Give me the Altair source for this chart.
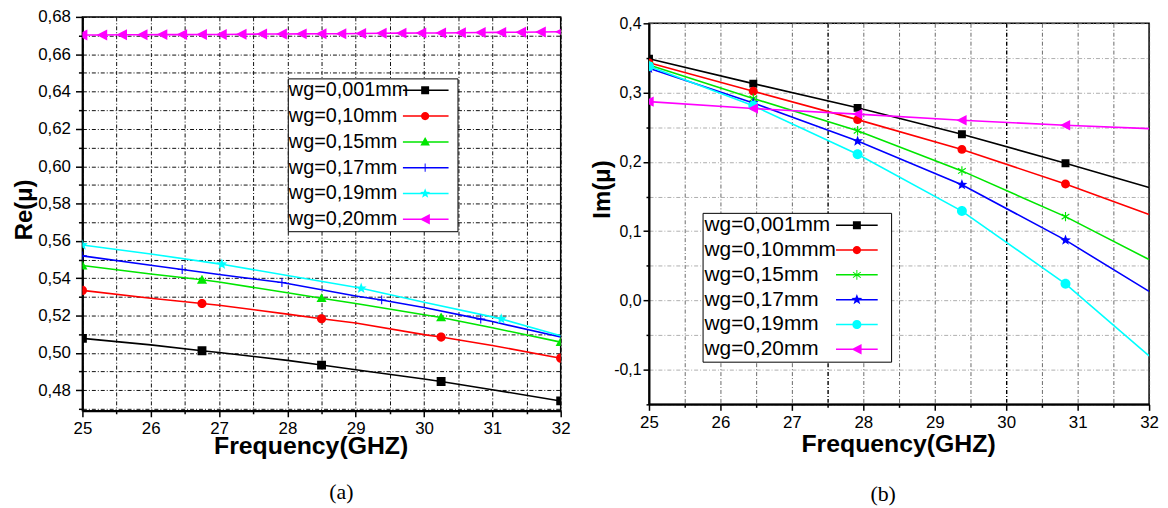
import math
import altair as alt
import pandas as pd

# ---------------- data ----------------
re_names = ["wg=0,001mm", "wg=0,10mm", "wg=0,15mm", "wg=0,17mm", "wg=0,19mm", "wg=0,20mm"]
re_colors = ["#000000", "#ff0000", "#00e600", "#0000ff", "#00ffff", "#ff00ff"]

re_black_x = [25, 26, 26.75, 27, 28, 28.5, 29, 30, 30.25, 31, 32]
re_black_y = [0.5078, 0.5043, 0.5012, 0.5002, 0.4960, 0.4935, 0.4910, 0.4860, 0.4847, 0.4803, 0.4743]
re_black_m = [25, 26.75, 28.5, 30.25, 32]

re_red_x = [25, 26, 26.75, 27, 28, 28.5, 29, 30, 30.25, 31, 32]
re_red_y = [0.5335, 0.5293, 0.5265, 0.5255, 0.5208, 0.5183, 0.5160, 0.5098, 0.5085, 0.5040, 0.4972]
re_red_m = [25, 26.75, 28.5, 30.25, 32]

re_green_x = [25, 26, 26.75, 27, 28, 28.5, 29, 30, 30.25, 31, 32]
re_green_y = [0.5468, 0.5423, 0.5392, 0.5380, 0.5322, 0.5293, 0.5265, 0.5205, 0.5190, 0.5135, 0.5058]
re_green_m = [25, 26.75, 28.5, 30.25, 32]

re_blue_x = [25, 26, 26.46, 27, 27.92, 28, 29, 29.38, 30, 30.83, 31, 32]
re_blue_y = [0.5520, 0.5470, 0.5447, 0.5420, 0.5377, 0.5372, 0.5305, 0.5284, 0.5243, 0.5181, 0.5168, 0.5085]
re_blue_m = [25, 26.46, 27.92, 29.38, 30.83]

re_cyan_x = [25, 26, 27, 27.04, 28, 29, 29.08, 30, 31, 31.13, 32]
re_cyan_y = [0.5578, 0.5530, 0.5477, 0.5475, 0.5415, 0.5352, 0.5346, 0.5272, 0.5193, 0.5182, 0.5092]
re_cyan_m = [25, 27.04, 29.08, 31.13]

re_mag_x = [25.0, 25.29, 25.58, 25.88, 26.17, 26.46, 26.75, 27.04, 27.33, 27.63, 27.92, 28.21, 28.5,
            28.79, 29.08, 29.38, 29.67, 29.96, 30.25, 30.54, 30.83, 31.13, 31.42, 31.71, 32.0]
re_mag_y = [0.6703, 0.6703, 0.6704, 0.6704, 0.6705, 0.6705, 0.6706, 0.6706, 0.6707, 0.6708, 0.6708,
            0.6709, 0.6710, 0.6710, 0.6711, 0.6712, 0.6713, 0.6714, 0.6714, 0.6715, 0.6716, 0.6717,
            0.6718, 0.6719, 0.6720]
re_mag_m = re_mag_x

im_names = ["wg=0,001mm", "wg=0,10mmm", "wg=0,15mm", "wg=0,17mm", "wg=0,19mm", "wg=0,20mm"]
im_colors = ["#000000", "#ff0000", "#00e600", "#0000ff", "#00ffff", "#ff00ff"]
im_x = [25, 26.46, 27.92, 29.38, 30.83, 32]
im_m = [25, 26.46, 27.92, 29.38, 30.83]
im_black_y = [0.349, 0.313, 0.278, 0.240, 0.198, 0.163]
im_red_y = [0.343, 0.302, 0.261, 0.218, 0.168, 0.124]
im_green_y = [0.340, 0.2915, 0.245, 0.187, 0.121, 0.059]
im_blue_y = [0.335, 0.285, 0.230, 0.167, 0.087, 0.013]
im_cyan_y = [0.338, 0.281, 0.211, 0.129, 0.024, -0.080]
im_mag_y = [0.287, 0.277, 0.269, 0.260, 0.253, 0.248]

x_ticks = [25, 25.5, 26, 26.5, 27, 27.5, 28, 28.5, 29, 29.5, 30, 30.5, 31, 31.5, 32]
re_y_ticks = [0.47, 0.48, 0.49, 0.50, 0.51, 0.52, 0.53, 0.54, 0.55, 0.56, 0.57, 0.58, 0.59,
              0.60, 0.61, 0.62, 0.63, 0.64, 0.65, 0.66, 0.67, 0.68]
im_y_ticks = [-0.15, -0.1, -0.05, 0.0, 0.05, 0.1, 0.15, 0.2, 0.25, 0.3, 0.35, 0.4]

FONT = "Liberation Sans"
FREQ = "Frequency(GHZ)"

# ---------------- marker shapes (unit coordinates) ----------------
def poly(pts):
    return "M" + " L".join(f"{x:.3f},{y:.3f}" for x, y in pts) + " Z"

def bar(angle, half_len, half_w, cx):
    a = math.radians(angle)
    ux, uy = math.cos(a), math.sin(a)
    vx, vy = -uy, ux
    corners = [(-half_len, -half_w), (half_len, -half_w), (half_len, half_w), (-half_len, half_w)]
    return poly([(cx + px * ux + py * vx, px * uy + py * vy) for px, py in corners])

def marker(kind, s=1.0, cx=0.0):
    if kind == "square":
        return poly([(cx - s, -s), (cx + s, -s), (cx + s, s), (cx - s, s)])
    if kind == "circle":
        return f"M{cx - s:.3f},0 A{s:.3f},{s:.3f} 0 1,1 {cx + s:.3f},0 A{s:.3f},{s:.3f} 0 1,1 {cx - s:.3f},0 Z"
    if kind == "triangle":
        return poly([(cx, -1.1 * s), (cx + 1.1 * s, 0.85 * s), (cx - 1.1 * s, 0.85 * s)])
    if kind == "plus":
        return bar(0, s, 0.12, cx) + " " + bar(90, s, 0.12, cx)
    if kind == "asterisk":
        return " ".join(bar(a, s, 0.12, cx) for a in (90, 35, 145))
    if kind == "star":
        pts = []
        for i in range(10):
            r = 1.25 * s if i % 2 == 0 else 0.52 * s
            ang = math.radians(-90 + 36 * i)
            pts.append((cx + r * math.cos(ang), r * math.sin(ang)))
        return poly(pts)
    if kind == "lefttri":
        return poly([(cx - 1.1 * s, 0), (cx + 0.95 * s, -1.05 * s), (cx + 0.95 * s, 1.05 * s)])
    return ""

def legend_symbol(kind, s, line_from, line_to, mid, right_edge):
    # thin filled bar (the line), the marker, and an invisible point that widens the box
    return (bar(0, (line_to - line_from) / 2, 0.19, (line_to + line_from) / 2) + " "
            + marker(kind, s, mid) + f" M{right_edge:.2f},0 Z")


def panel(names, colors, series, kinds, sizes, lscales, xscale, yscale, xaxis, yaxis,
          width, height, legend, leg_line, cap, cap_dx, cap_offset, y_mid):
    xenc = alt.X("x:Q", scale=xscale, axis=xaxis, title=FREQ)
    layers = []
    for (xs, ys, ms), col in zip(series, colors):
        df = pd.DataFrame({"x": xs, "y": ys})
        layers.append(alt.Chart(df).mark_line(color=col, strokeWidth=1.6, clip=True).encode(
            x=xenc, y=alt.Y("y:Q", scale=yscale, axis=yaxis)))
    for (xs, ys, ms), col, kind, size in zip(series, colors, kinds, sizes):
        lookup = dict(zip(xs, ys))
        dm = pd.DataFrame({"x": ms, "y": [lookup[m] for m in ms]})
        layers.append(alt.Chart(dm).mark_point(shape=marker(kind), filled=True, color=col,
                                               size=size, opacity=1, strokeWidth=0, clip=True).encode(
            x=xenc, y=alt.Y("y:Q", scale=yscale, axis=yaxis)))
    # legend-only layer (points lie outside the x domain and are clipped)
    dl = pd.DataFrame({"series": names, "x": [20] * len(names), "y": [y_mid] * len(names)})
    lpaths = [legend_symbol(k, s, *leg_line) for k, s in zip(kinds, lscales)]
    layers.append(alt.Chart(dl).mark_point(filled=True, opacity=1, clip=True).encode(
        x=xenc, y=alt.Y("y:Q", scale=yscale, axis=yaxis),
        color=alt.Color("series:N", scale=alt.Scale(domain=names, range=colors), legend=legend),
        shape=alt.Shape("series:N", scale=alt.Scale(domain=names, range=lpaths), legend=legend),
    ))
    return alt.layer(*layers).properties(
        width=width, height=height,
        title=alt.TitleParams(cap, orient="bottom", font="Liberation Serif", fontSize=22,
                              fontWeight="normal", color="black", dx=cap_dx, offset=cap_offset),
    )

major_x = "datum.value % 1 == 0"

def x_axis(title_x, title_y, grid_color, grid_width):
    return alt.Axis(
        values=x_ticks, labelExpr=f"{major_x} ? format(datum.value, 'd') : ''",
        labelFont=FONT, labelFontSize=17, labelColor="black", labelPadding=4, labelFlush=False,
        labelOverlap=False,
        tickSize={"condition": {"test": major_x, "value": 6}, "value": 3},
        tickColor="black", tickWidth=1.5,
        domainColor="black", domainWidth=2,
        grid=True, gridColor=grid_color, gridDash=[4, 2, 1, 2], gridWidth=grid_width, gridOpacity=1,
        titleFont=FONT, titleFontSize=25, titleFontWeight="bold", titleColor="black",
        titleX=title_x, titleY=title_y, titleBaseline="alphabetic",
    )

re_major = "round(datum.value * 100) % 2 == 0"
re_yaxis = alt.Axis(
    values=re_y_ticks,
    labelExpr=f"{re_major} ? replace(format(datum.value, '.2f'), '.', ',') : ''",
    labelFont=FONT, labelFontSize=17, labelColor="black", labelPadding=5, labelOverlap=False,
    labelFlush=False,
    tickSize={"condition": {"test": re_major, "value": 7}, "value": 4},
    tickColor="black", tickWidth=1.5, domainColor="black", domainWidth=2,
    grid=True, gridColor="#111111", gridDash=[4, 2, 1, 2], gridWidth=1, gridOpacity=1,
    title="Re(\u03bc)", titleFont=FONT, titleFontSize=24, titleFontWeight="bold", titleColor="black",
    titleX=-51, titleY=194, titleBaseline="alphabetic", titleAngle=270,
)

im_major = "round(datum.value * 20) % 2 == 0"
im_yaxis = alt.Axis(
    values=im_y_ticks,
    labelExpr=(f"{im_major} ? (datum.value < -0.001 ? '-' : '') + "
               "replace(format(abs(datum.value), '.1f'), '.', ',') : ''"),
    labelFont=FONT, labelFontSize=16, labelColor="black", labelPadding=2, labelOverlap=False,
    labelFlush=False,
    tickSize={"condition": {"test": im_major, "value": 6}, "value": 3},
    tickColor="black", tickWidth=1.5, domainColor="black", domainWidth=2,
    grid=True, gridColor="#9a9a9a", gridDash=[4, 2, 1, 2], gridWidth=0.8, gridOpacity=1,
    title="Im(\u03bc)", titleFont=FONT, titleFontSize=24, titleFontWeight="bold", titleColor="black",
    titleX=-40, titleY=167, titleBaseline="alphabetic", titleAngle=270,
)

def make_legend(lx, ly, fs, rowpad):
    return alt.Legend(
        title=None, orient="none", legendX=lx, legendY=ly, padding=2,
        labelFont=FONT, labelFontSize=fs, labelColor="black", labelLimit=400,
        labelOffset={"expr": "-21"}, symbolSize=64, symbolStrokeWidth=0, symbolOpacity=1,
        rowPadding=rowpad, strokeColor="black", fillColor="white",
    )

left = panel(
    re_names, re_colors,
    [(re_black_x, re_black_y, re_black_m), (re_red_x, re_red_y, re_red_m),
     (re_green_x, re_green_y, re_green_m), (re_blue_x, re_blue_y, re_blue_m),
     (re_cyan_x, re_cyan_y, re_cyan_m), (re_mag_x, re_mag_y, re_mag_m)],
    ["square", "circle", "triangle", "plus", "star", "lefttri"],
    [80, 85, 85, 80, 85, 110],
    [1.0, 1.05, 1.1, 1.05, 1.05, 1.25],
    alt.Scale(domain=[25, 32], nice=False, zero=False),
    alt.Scale(domain=[0.469, 0.68], nice=False, zero=False),
    x_axis(230, 43, "#111111", 1), re_yaxis, 482, 397,
    make_legend(207, 62, 20, 6), (26.0, 37.5, 31.6, 39.25), "(a)", 20, 24, 0.6,
)

im_grid_strong = "datum.value == 30 || datum.value == 27.5"
right = panel(
    im_names, im_colors,
    [(im_x, im_black_y, im_m), (im_x, im_red_y, im_m), (im_x, im_green_y, im_m),
     (im_x, im_blue_y, im_m), (im_x, im_cyan_y, im_m), (im_x, im_mag_y, im_m)],
    ["square", "circle", "asterisk", "star", "circle", "lefttri"],
    [64, 80, 90, 85, 100, 100],
    [1.0, 1.05, 1.2, 1.15, 1.15, 1.25],
    alt.Scale(domain=[25, 32], nice=False, zero=False),
    alt.Scale(domain=[-0.15, 0.4], nice=False, zero=False),
    x_axis(251, 48,
           {"condition": {"test": im_grid_strong, "value": "#000000"}, "value": "#444444"},
           {"condition": {"test": im_grid_strong, "value": 1.4}, "value": 0.8}),
    im_yaxis, 504, 384,
    make_legend(54, 191, 21, 3), (30.5, 41.0, 35.75, 43.75), "(b)", -16, 27, 0.1,
)

chart = alt.hconcat(left, right, spacing=89, bounds="flush", center=True).resolve_scale(
    color="independent", shape="independent", x="independent", y="independent"
).configure(
    padding={"left": 4, "top": -3, "right": 0, "bottom": 0}, background="white"
).configure_view(stroke="black", strokeWidth=1.5)

chart.save("out.html", embed_options={"renderer": "svg", "actions": False})
